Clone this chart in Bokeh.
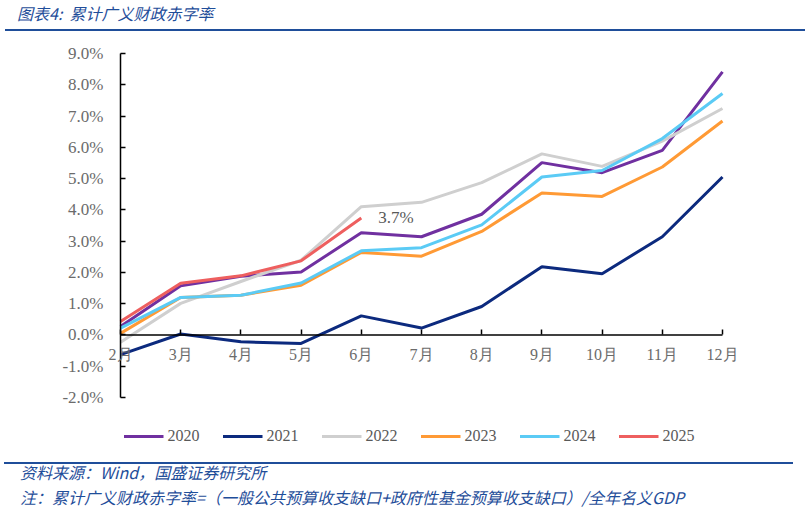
from bokeh.plotting import figure
from bokeh.models import Label, Legend, LegendItem, PrintfTickFormatter, LinearAxis, Div
from bokeh.layouts import column
from bokeh.embed import file_html
from bokeh.resources import INLINE

months = ["2月", "3月", "4月", "5月", "6月", "7月", "8月", "9月", "10月", "11月", "12月"]
years = ["2020", "2021", "2022", "2023", "2024", "2025"]
s2020 = [0.27, 1.57, 1.88, 2.01, 3.27, 3.14, 3.86, 5.51, 5.19, 5.90, 8.41]
s2021 = [-0.63, 0.03, -0.22, -0.27, 0.61, 0.22, 0.91, 2.18, 1.96, 3.14, 5.05]
s2022 = [-0.23, 1.01, 1.71, 2.39, 4.10, 4.24, 4.87, 5.79, 5.39, 6.20, 7.24]
s2023 = [0.05, 1.20, 1.27, 1.59, 2.64, 2.52, 3.31, 4.54, 4.43, 5.37, 6.84]
s2024 = [0.22, 1.20, 1.27, 1.66, 2.69, 2.79, 3.52, 5.05, 5.26, 6.28, 7.72]
s2025 = [0.43, 1.65, 1.89, 2.37, 3.74]
y_ticks = [-2, -1, 0, 1, 2, 3, 4, 5, 6, 7, 8, 9]

series = [s2020, s2021, s2022, s2023, s2024, s2025]
colors = ["#7030A0", "#0C2A7E", "#CFCFCF", "#FF9A35", "#5BCBF5", "#EE5F5F"]

SERIF = "Liberation Serif"
CJK = "'Noto Sans CJK SC'"
BLUE = "#1F4E9A"
GRAY = "#6B6B6B"

PAGE_W = 810
HEADER_H = 31
FIG_H = 429
FOOTER_H = 50
# axis box in page pixels (first month .. last month, lowest .. highest tick)
AL, AR, AT, AB = 120, 722, 53, 397
# drawing frame in page pixels (larger so tick labels and legend are not clipped)
FL, FR, FT, FB = 60, 758, 42, 452

n = len(months) - 1
ux = (AR - AL) / n
uy = (AB - AT) / (y_ticks[-1] - y_ticks[0])
x_range = ((FL - AL) / ux, (FR - AL) / ux)
y_range = (y_ticks[0] - (FB - AB) / uy, y_ticks[-1] + (AT - FT) / uy)

header = Div(width=PAGE_W, height=HEADER_H, margin=0, text=(
    f'<div style="position:relative;width:{PAGE_W}px;height:{HEADER_H}px;">'
    f'<span style="position:absolute;left:17px;top:2px;font-family:{CJK};font-size:16px;'
    f'font-style:italic;color:{BLUE};white-space:nowrap;line-height:22px;">图表4:&nbsp; 累计广义财政赤字率</span>'
    f'<div style="position:absolute;left:5px;top:29px;width:800px;height:1.5px;background:{BLUE};"></div>'
    '</div>'))

p = figure(width=PAGE_W, height=FIG_H, output_backend="svg", toolbar_location=None,
           x_range=x_range, y_range=y_range, x_axis_type=None, y_axis_type=None,
           min_border_left=FL, min_border_right=PAGE_W - FR,
           min_border_top=FT - HEADER_H, min_border_bottom=HEADER_H + FIG_H - FB)
p.outline_line_color = None
p.grid.visible = False
p.background_fill_color = "white"
p.border_fill_color = "white"

items = []
for name, vals, c in zip(years, series, colors):
    r = p.line(list(range(len(vals))), vals, line_color=c, line_width=3)
    items.append(LegendItem(label=name, renderers=[r]))

# axis lines (first month to last month at zero; lowest to highest tick at first month)
p.segment(x0=[0, 0], y0=[0, y_ticks[0]], x1=[n, 0], y1=[0, y_ticks[-1]],
          line_color="black", line_width=1.5)

# y axis ticks and labels, crossing at the first month
yax = LinearAxis(ticker=y_ticks, fixed_location=0,
                 formatter=PrintfTickFormatter(format="%.1f%%"),
                 major_tick_in=5, major_tick_out=0, minor_tick_line_color=None,
                 axis_line_color=None, major_tick_line_width=1.5,
                 major_tick_line_color="black",
                 major_label_text_font=SERIF, major_label_text_font_size="17px",
                 major_label_text_color=GRAY, major_label_standoff=17)
p.add_layout(yax, "left")

# x axis ticks and labels, crossing at zero
xax = LinearAxis(ticker=list(range(len(months))), fixed_location=0,
                 major_label_overrides={i: m for i, m in enumerate(months)},
                 major_tick_in=5, major_tick_out=0, minor_tick_line_color=None,
                 axis_line_color=None, major_tick_line_width=1.5,
                 major_tick_line_color="black",
                 major_label_text_font=SERIF, major_label_text_font_size="16px",
                 major_label_text_color=GRAY, major_label_standoff=11)
p.add_layout(xax, "below")

# annotation of last 2025 value
last_i = len(s2025) - 1
p.add_layout(Label(x=last_i, y=s2025[-1], text=f"{s2025[-1]:.1f}%", x_offset=17,
                   text_baseline="middle", text_font=SERIF, text_font_size="17px",
                   text_color="#595959"))

# legend (inside the enlarged frame, below the axis box)
legend = Legend(items=items, orientation="horizontal", location="bottom_center",
                padding=0, margin=6, spacing=23, glyph_width=40, label_standoff=4,
                border_line_color=None, background_fill_alpha=0,
                label_text_font=SERIF, label_text_font_size="16px",
                label_text_color="#595959")
p.add_layout(legend, "center")

footer = Div(width=PAGE_W, height=FOOTER_H, margin=0, text=(
    f'<div style="position:relative;width:{PAGE_W}px;height:{FOOTER_H}px;">'
    f'<div style="position:absolute;left:4px;top:2px;width:789px;height:1.5px;background:{BLUE};"></div>'
    f'<span style="position:absolute;left:20px;top:1px;font-family:{CJK};font-size:16px;'
    f'font-style:italic;color:{BLUE};white-space:nowrap;line-height:22px;">资料来源：Wind，国盛证券研究所</span>'
    f'<span style="position:absolute;left:20px;top:26px;font-family:{CJK};font-size:16px;'
    f'font-style:italic;color:{BLUE};white-space:nowrap;line-height:22px;">'
    '注：累计广义财政赤字率=（一般公共预算收支缺口+政府性基金预算收支缺口）/全年名义GDP</span>'
    '</div>'))

layout = column(header, p, footer, spacing=0)
open("out.html", "w").write(file_html(layout, INLINE))
